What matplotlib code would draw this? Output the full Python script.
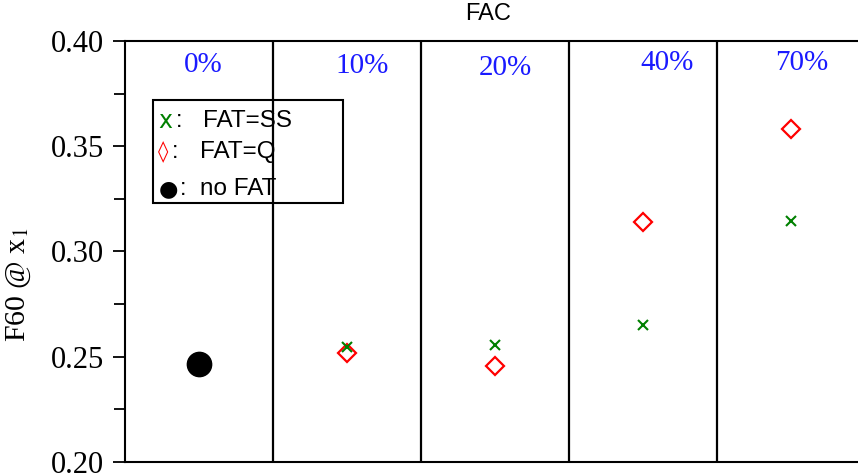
import matplotlib
matplotlib.use("Agg")
import matplotlib.pyplot as plt
from matplotlib.patches import Rectangle
from matplotlib.ticker import MultipleLocator, FormatStrFormatter

# FAC levels (one column each) and F60 at x1 for each FAT setting
fac_labels = ["0%", "10%", "20%", "40%", "70%"]
fat_ss = [None, 0.2546, 0.2556, 0.2650, 0.3145]
fat_q = [None, 0.2518, 0.2456, 0.3140, 0.3582]
no_fat = [0.2466, None, None, None, None]

# where each FAC label sits inside its column
label_x = [0.53, 1.60, 2.57, 3.66, 4.57]
label_y = [0.3886, 0.3882, 0.3872, 0.3895, 0.3895]

plt.rcParams["font.family"] = ["Liberation Serif", "DejaVu Serif"]
plt.rcParams["mathtext.fontset"] = "stix"

fig = plt.figure(figsize=(8.58, 4.76), dpi=100)
ax = fig.add_axes([125 / 858, 14 / 476, 740 / 858, 421 / 476])

cols = range(len(fac_labels))
centers = [c + 0.5 for c in cols]

def pick(vals):
    xs = [x for x, v in zip(centers, vals) if v is not None]
    ys = [v for v in vals if v is not None]
    return xs, ys

xs, ys = pick(fat_ss)
ax.plot(xs, ys, ls="none", marker="x", ms=7, mew=1.5, color="#008000", zorder=4)
xs, ys = pick(fat_q)
ax.plot(xs, ys, ls="none", marker="D", ms=9, mew=1.6, mfc="none", mec="#ff0000", zorder=3)
xs, ys = pick(no_fat)
ax.plot(xs, ys, ls="none", marker="o", ms=17.5, color="black", zorder=3)

# column dividers
for c in cols[1:]:
    ax.axvline(c, color="black", lw=1.6)

for x, y, lab in zip(label_x, label_y, fac_labels):
    ax.text(x, y, lab, color="#1a1aff", fontsize=21, ha="center", va="center")

ax.set_xlim(0, len(fac_labels))
ax.set_ylim(0.20, 0.40)
ax.yaxis.set_major_locator(MultipleLocator(0.05))
ax.yaxis.set_minor_locator(MultipleLocator(0.025))
ax.yaxis.set_major_formatter(FormatStrFormatter("%.2f"))
ax.tick_params(axis="y", which="major", direction="out", length=9, width=1.3,
               labelsize=22, pad=6)
ax.tick_params(axis="y", which="minor", direction="out", length=8, width=1.3)
ax.tick_params(axis="x", which="both", bottom=False, labelbottom=False)
for side in ["left", "bottom", "top"]:
    ax.spines[side].set_linewidth(1.5)
ax.spines["right"].set_visible(False)

ax.set_ylabel("F60 @ x$_1$", fontsize=21.5)
ax.yaxis.set_label_coords(-0.124, 0.42)

fig.text(488 / 858, 1 - 13.5 / 476, "FAC", fontsize=17, family="Liberation Sans",
         ha="center", va="center")

# key box drawn as text glyphs
ax.add_patch(Rectangle((0.038, 0.615), 0.257, 0.245, transform=ax.transAxes,
                       fill=False, lw=1.5, ec="black", zorder=5))
key_rows = [
    ("x", "#008000", 17, 0.069, "FAT=SS", 0.811, 0.105),
    ("\u25ca", "#ff0000", 15, 0.064, "FAT=Q", 0.737, 0.102),
    ("\u25cf", "black", 16, 0.074, "no FAT", 0.649, 0.102),
]
for sym, col, sz, cx, txt, yy, tx in key_rows:
    ax.text(0.045, yy, sym, color=col, fontsize=sz, family=["DejaVu Sans"],
            transform=ax.transAxes, va="center", ha="left")
    ax.text(cx, yy, ":", fontsize=17, family="Liberation Sans",
            transform=ax.transAxes, va="center", ha="left")
    ax.text(tx, yy, txt, fontsize=17.5, family="Liberation Sans",
            transform=ax.transAxes, va="center", ha="left")

fig.savefig("out.png", dpi=100)
